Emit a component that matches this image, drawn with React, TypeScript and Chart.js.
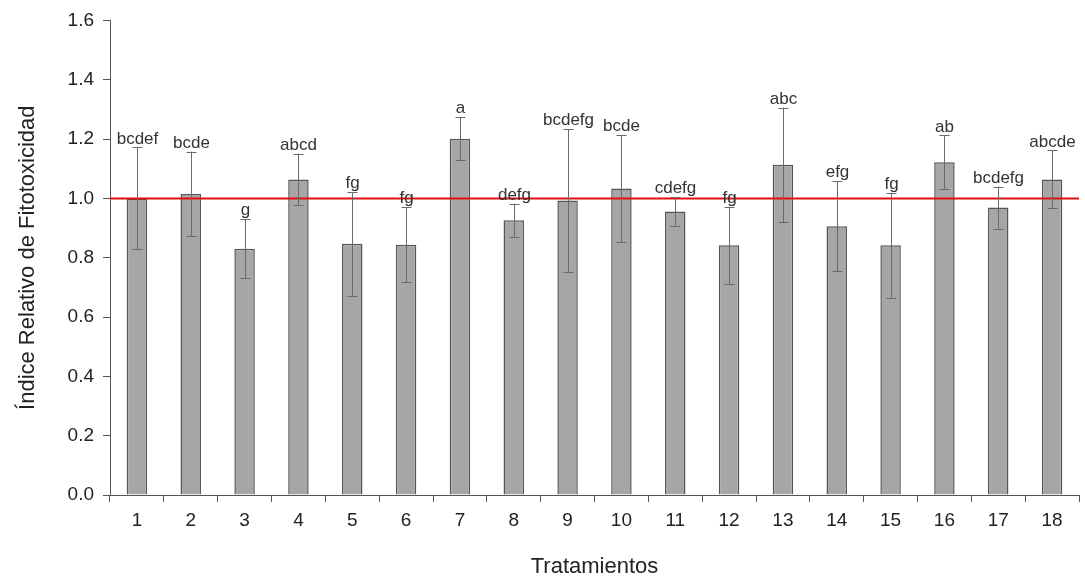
import React, { useEffect, useRef } from "react";
import { Chart, registerables } from "chart.js";

Chart.register(...registerables);

const categories = ["1","2","3","4","5","6","7","8","9","10","11","12","13","14","15","16","17","18"];
const means = [1.00, 1.015, 0.83, 1.064, 0.847, 0.844, 1.201, 0.926, 0.993, 1.033, 0.956, 0.842, 1.113, 0.906, 0.842, 1.122, 0.969, 1.064];
const errors = [0.172, 0.143, 0.10, 0.087, 0.175, 0.127, 0.073, 0.056, 0.24, 0.18, 0.048, 0.13, 0.193, 0.152, 0.177, 0.09, 0.071, 0.098];
const letters = ["bcdef","bcde","g","abcd","fg","fg","a","defg","bcdefg","bcde","cdefg","fg","abc","efg","fg","ab","bcdefg","abcde"];
const referenceValue = 1.0;

const FONT = "'Liberation Sans', Arial, sans-serif";

const overlayPlugin = {
  id: "overlay",
  afterDatasetsDraw(chart: any) {
    const ctx = chart.ctx;
    const x = chart.scales.x;
    const y = chart.scales.y;
    const area = chart.chartArea;
    ctx.save();
    // reference line
    const yr = y.getPixelForValue(referenceValue);
    ctx.strokeStyle = "#e01010";
    ctx.lineWidth = 2;
    ctx.beginPath();
    ctx.moveTo(area.left, yr);
    ctx.lineTo(area.right, yr);
    ctx.stroke();
    // error bars and letters
    ctx.strokeStyle = "#6a6a6a";
    ctx.lineWidth = 1;
    ctx.fillStyle = "#333";
    ctx.font = `17px ${FONT}`;
    ctx.textAlign = "center";
    ctx.textBaseline = "bottom";
    means.forEach((m, i) => {
      const cx = Math.round(x.getPixelForValue(i)) + 0.5;
      const top = y.getPixelForValue(m + errors[i]);
      const bot = y.getPixelForValue(m - errors[i]);
      ctx.beginPath();
      ctx.moveTo(cx, top);
      ctx.lineTo(cx, bot);
      ctx.moveTo(cx - 5, Math.round(top) + 0.5);
      ctx.lineTo(cx + 5, Math.round(top) + 0.5);
      ctx.moveTo(cx - 5, Math.round(bot) + 0.5);
      ctx.lineTo(cx + 5, Math.round(bot) + 0.5);
      ctx.stroke();
      ctx.fillText(letters[i], cx, top);
    });
    ctx.restore();
  },
};

export default function App() {
  const ref = useRef<HTMLCanvasElement>(null);
  useEffect(() => {
    document.body.style.margin = "0";
    const chart = new Chart(ref.current!, {
      type: "bar",
      data: {
        labels: categories,
        datasets: [
          {
            data: means,
            backgroundColor: "#a6a6a6",
            borderColor: "#555",
            borderWidth: 1.5,
            barPercentage: 0.38,
            categoryPercentage: 1,
          },
        ],
      },
      options: {
        responsive: false,
        animation: false,
        layout: { padding: { top: 20, right: 6, left: 0, bottom: 0 } },
        plugins: { legend: { display: false }, tooltip: { enabled: false } },
        scales: {
          x: {
            offset: true,
            grid: { drawOnChartArea: false, offset: true, tickLength: 7, color: "#555" },
            border: { color: "#555", width: 1 },
            ticks: { color: "#222", font: { family: FONT, size: 19 }, padding: 7 },
            title: {
              display: true,
              text: "Tratamientos",
              color: "#222",
              font: { family: FONT, size: 22 },
              padding: { top: 0, bottom: 0 },
            },
            afterFit: (s: any) => { s.height = 85; },
          },
          y: {
            min: 0,
            max: 1.6,
            grid: { drawOnChartArea: false, tickLength: 7, color: "#555" },
            border: { color: "#555", width: 1 },
            ticks: {
              stepSize: 0.2,
              color: "#222",
              font: { family: FONT, size: 19 },
              padding: 9,
              callback: (v: any) => Number(v).toFixed(1),
            },
            title: {
              display: true,
              text: "Índice Relativo de Fitotoxicidad",
              color: "#222",
              font: { family: FONT, size: 22 },
              padding: { top: 15, bottom: 0 },
            },
            afterFit: (s: any) => { s.width = 110; },
          },
        },
      },
      plugins: [overlayPlugin],
    });
    return () => chart.destroy();
  }, []);
  return (
    <canvas
      ref={ref}
      width={1085}
      height={580}
      style={{ position: "absolute", left: 0, top: 0, display: "block" }}
    />
  );
}
